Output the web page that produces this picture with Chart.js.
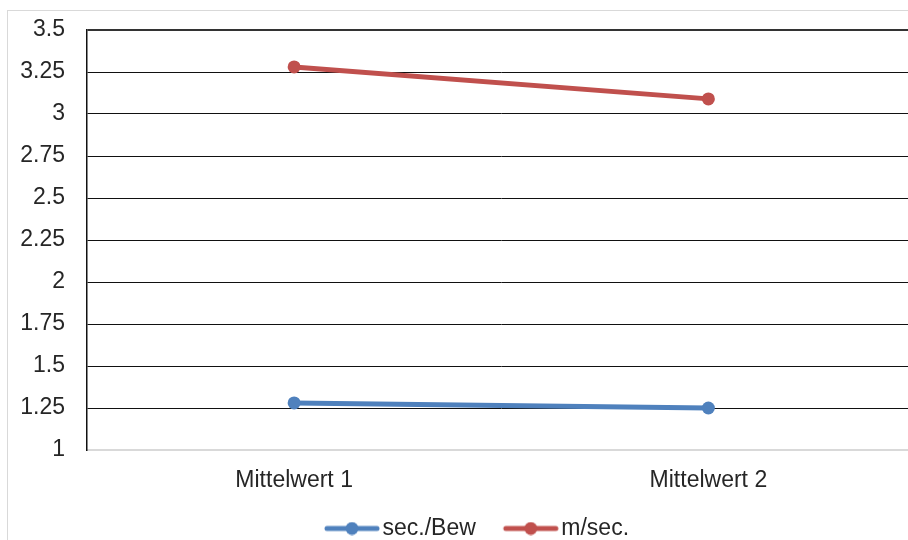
<!DOCTYPE html>
<html>
<head>
<meta charset="utf-8">
<script src="https://cdn.jsdelivr.net/npm/chart.js@4/dist/chart.umd.min.js"></script>
<style>
  html, body { margin: 0; padding: 0; background: #fff; overflow: hidden; }
  #wrap { width: 908px; height: 540px; overflow: hidden; position: relative; }
  #wrap canvas { position: absolute; left: 0; top: 0; }
</style>
</head>
<body>
<div id="wrap"><canvas id="c" width="922" height="550"></canvas></div>
<script>
// Kategorien und Messwerte
const categories = ['Mittelwert 1', 'Mittelwert 2'];
const secProBew = [1.28, 1.25];
const mProSec = [3.28, 3.09];
const seriesNames = ['sec./Bew', 'm/sec.'];
const seriesColors = ['#4F81BD', '#C0504D'];

// Achsenbeschriftung der y-Achse
const yTickValues = [1, 1.25, 1.5, 1.75, 2, 2.25, 2.5, 2.75, 3, 3.25, 3.5];
const yTickLabels = ['1', '1.25', '1.5', '1.75', '2', '2.25', '2.5', '2.75', '3', '3.25', '3.5'];

const FONT = '"Liberation Sans", Arial, sans-serif';
const TEXT = '#262626';
const FONT_SIZE = 23;

// Legendensymbol: Linie mit Punkt, rechtsbündig vor dem Text
function lineMarker(color) {
  const cv = document.createElement('canvas');
  cv.width = 84; cv.height = 14;
  const g = cv.getContext('2d');
  g.strokeStyle = color;
  g.lineWidth = 5;
  g.lineCap = 'round';
  g.beginPath(); g.moveTo(29, 7); g.lineTo(79, 7); g.stroke();
  g.fillStyle = color;
  g.beginPath(); g.arc(54, 7, 6.5, 0, Math.PI * 2); g.fill();
  return cv;
}
const legendIcons = seriesColors.map(lineMarker);

// heller Rahmen um das gesamte Diagramm
const frame = {
  id: 'frame',
  beforeDraw(chart) {
    const ctx = chart.ctx;
    ctx.save();
    ctx.fillStyle = '#fff';
    ctx.fillRect(0, 0, chart.width, chart.height);
    ctx.strokeStyle = '#d9d9d9';
    ctx.lineWidth = 1;
    ctx.strokeRect(7.5, 10.5, chart.width, chart.height);
    ctx.restore();
  }
};

// Legende etwas nach rechts versetzen
const legendShift = {
  id: 'legendShift',
  afterLayout(chart) {
    if (chart.legend) { chart.legend.left += 8; chart.legend.right += 8; }
  }
};

new Chart(document.getElementById('c'), {
  type: 'line',
  data: {
    labels: categories,
    datasets: [secProBew, mProSec].map((values, i) => ({
      label: seriesNames[i],
      data: values,
      borderColor: seriesColors[i],
      backgroundColor: seriesColors[i],
      borderWidth: 5,
      pointRadius: 6.5,
      pointBorderWidth: 0,
      pointBackgroundColor: seriesColors[i],
      tension: 0,
      fill: false,
      clip: false
    }))
  },
  options: {
    responsive: false,
    animation: false,
    layout: { padding: { top: 30, right: 0, bottom: 0, left: 0 } },
    plugins: {
      tooltip: { enabled: false },
      legend: {
        position: 'bottom',
        labels: {
          usePointStyle: true,
          pointStyleWidth: 62,
          padding: 12,
          color: TEXT,
          font: { family: FONT, size: FONT_SIZE },
          generateLabels(chart) {
            const items = Chart.defaults.plugins.legend.labels.generateLabels(chart);
            items.forEach(it => { it.pointStyle = legendIcons[it.datasetIndex]; });
            return items;
          }
        }
      }
    },
    scales: {
      x: {
        offset: true,
        grid: { display: false, drawTicks: false },
        border: { display: true, color: '#d9d9d9', width: 2 },
        ticks: { color: TEXT, font: { family: FONT, size: FONT_SIZE }, padding: 17, maxRotation: 0 },
        afterFit(s) { s.height = 55; s.paddingLeft = 0; s.paddingRight = 0; }
      },
      y: {
        min: 1,
        max: 3.5,
        afterBuildTicks(s) { s.ticks = yTickValues.map(v => ({ value: v })); },
        grid: {
          drawTicks: false,
          color: c => (c.tick && c.tick.value === 1) ? 'rgba(0,0,0,0)' : (c.tick && c.tick.value === 3.5 ? '#333' : '#111'),
          lineWidth: c => (c.tick && c.tick.value === 3.5) ? 2 : 1
        },
        border: { display: true, color: '#111', width: 1.5 },
        ticks: {
          color: TEXT,
          font: { family: FONT, size: FONT_SIZE },
          padding: 22,
          callback(v) { const i = yTickValues.indexOf(v); return i >= 0 ? yTickLabels[i] : ''; }
        },
        afterFit(s) { s.width = 87; s.paddingTop = 0; s.paddingBottom = 0; }
      }
    }
  },
  plugins: [frame, legendShift]
});
</script>
</body>
</html>
